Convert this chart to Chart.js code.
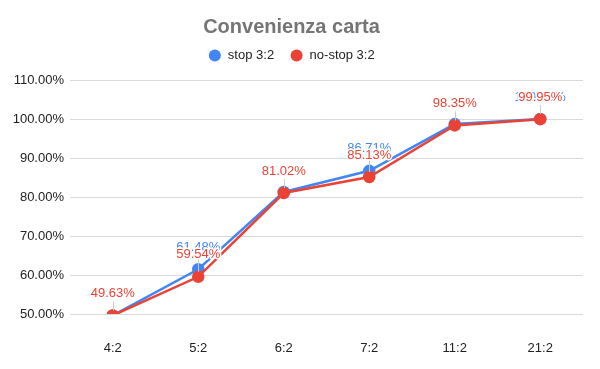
<!DOCTYPE html>
<html>
<head>
<meta charset="utf-8">
<script src="https://cdn.jsdelivr.net/npm/chart.js@4"></script>
<style>
  html, body { margin: 0; padding: 0; background: #fff; }
  #wrap { width: 600px; height: 369px; }
</style>
</head>
<body>
<div id="wrap"><canvas id="chart"></canvas></div>
<script>
const categories = ["4:2", "5:2", "6:2", "7:2", "11:2", "21:2"];
const stopValues = [49.63, 61.48, 81.30, 86.71, 98.70, 100.00];
const noStopValues = [49.63, 59.54, 81.02, 85.13, 98.35, 99.95];
// blue labels that survive the overlap with the red ones
const stopLabelShown = [false, true, false, true, false, true];

const BLUE = "#4285F4";
const RED = "#EA4335";
const FONT = "'Liberation Sans', Arial, sans-serif";

const pct = v => v.toFixed(2) + "%";

// draws value labels above each point, with a thin leader line
const pointLabels = {
  id: "pointLabels",
  afterDatasetsDraw(chart) {
    const ctx = chart.ctx;
    ctx.save();
    ctx.font = "13px " + FONT;
    ctx.textAlign = "center";
    ctx.textBaseline = "middle";
    chart.data.datasets.forEach((ds, di) => {
      const meta = chart.getDatasetMeta(di);
      meta.data.forEach((pt, i) => {
        if (di === 0 && !stopLabelShown[i]) return;
        ctx.strokeStyle = "#cccccc";
        ctx.lineWidth = 1;
        ctx.beginPath();
        ctx.moveTo(Math.round(pt.x) + 0.5, pt.y - 5);
        ctx.lineTo(Math.round(pt.x) + 0.5, pt.y - 14);
        ctx.stroke();
        ctx.strokeStyle = "#ffffff";
        ctx.lineWidth = 3;
        ctx.lineJoin = "round";
        ctx.strokeText(pct(ds.data[i]), pt.x, pt.y - 22);
        ctx.fillStyle = ds.borderColor;
        ctx.fillText(pct(ds.data[i]), pt.x, pt.y - 22);
      });
    });
    ctx.restore();
  }
};

// a bit more room between the legend and the plot
const legendGap = {
  id: "legendGap",
  beforeInit(chart) {
    const fit = chart.legend.fit;
    chart.legend.fit = function () {
      fit.bind(chart.legend)();
      this.height += 8;
    };
  }
};

new Chart(document.getElementById("chart"), {
  type: "line",
  data: {
    labels: categories,
    datasets: [
      {
        label: "stop 3:2",
        data: stopValues,
        borderColor: BLUE,
        backgroundColor: BLUE,
        borderWidth: 2.5,
        pointRadius: 5,
        pointHoverRadius: 5,
        tension: 0,
        order: 2
      },
      {
        label: "no-stop 3:2",
        data: noStopValues,
        borderColor: RED,
        backgroundColor: RED,
        borderWidth: 2.5,
        pointRadius: 5,
        pointHoverRadius: 5,
        tension: 0,
        order: 1
      }
    ]
  },
  options: {
    responsive: true,
    maintainAspectRatio: false,
    animation: false,
    layout: { padding: { top: 0, right: 17, bottom: 0, left: 0 } },
    plugins: {
      title: {
        display: true,
        text: "Convenienza carta",
        color: "#757575",
        font: { family: FONT, size: 20, weight: "bold" },
        padding: { top: 15, bottom: -6 }
      },
      legend: {
        display: true,
        labels: {
          usePointStyle: true,
          pointStyle: "circle",
          boxHeight: 8.5,
          padding: 16,
          color: "#222",
          font: { family: FONT, size: 13 },
          sort: (a, b) => a.datasetIndex - b.datasetIndex,
          generateLabels(chart) {
            const items = Chart.defaults.plugins.legend.labels.generateLabels(chart);
            items.forEach(it => { it.lineWidth = 0; });
            return items;
          }
        }
      },
      tooltip: { enabled: false }
    },
    scales: {
      x: {
        offset: true,
        grid: { display: false },
        border: { display: false },
        ticks: { color: "#222", font: { family: FONT, size: 13 }, padding: 19 },
        afterFit(scale) { scale.height = 55; }
      },
      y: {
        min: 50,
        max: 110,
        ticks: {
          stepSize: 10,
          color: "#222",
          padding: 6,
          font: { family: FONT, size: 13 },
          callback: v => pct(v)
        },
        grid: { color: "#d9d9d9", drawTicks: false },
        border: { display: false },
        afterFit(scale) { scale.width = 70; }
      }
    }
  },
  plugins: [pointLabels, legendGap]
});
</script>
</body>
</html>
